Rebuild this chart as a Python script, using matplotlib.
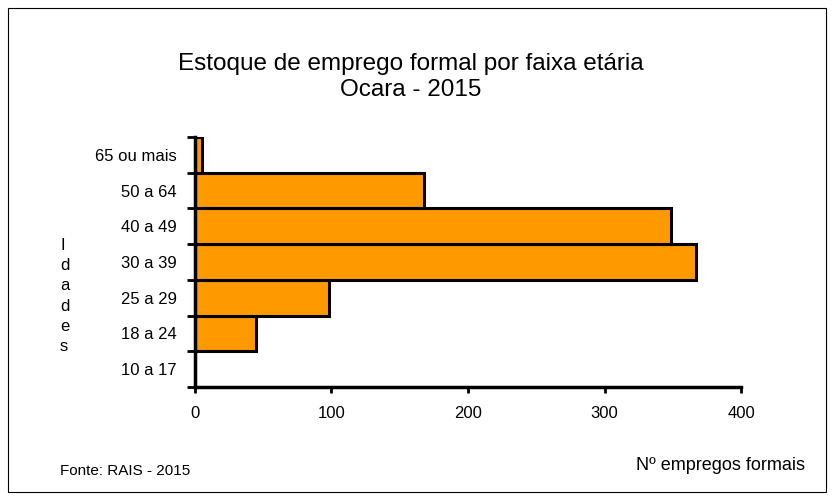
import matplotlib.pyplot as plt
import matplotlib.patheffects as pe
from matplotlib.patches import Rectangle
import numpy as np

plt.rcParams['font.family'] = ['Liberation Sans', 'DejaVu Sans']

faixas = ['10 a 17', '18 a 24', '25 a 29', '30 a 39', '40 a 49', '50 a 64', '65 ou mais']
empregos = [0, 45, 98, 367, 349, 168, 5]
xticks = [0, 100, 200, 300, 400]

fig = plt.figure(figsize=(8.34, 5), dpi=100)
ax = fig.add_axes([0.2338, 0.226, 0.6547, 0.5])

y = np.arange(len(faixas))
bars = ax.barh(y, empregos, height=1.0, color='#FF9900', edgecolor='black', linewidth=2.2)
for b in bars:
    b.set_path_effects([pe.SimplePatchShadow(offset=(1.5, -1.5), shadow_rgbFace='#FF9900', alpha=1.0), pe.Normal()])

ax.set_xlim(0, 400)
ax.set_ylim(-0.5, len(faixas) - 0.5)
ax.set_xticks(xticks)
ax.set_xticklabels([str(v) for v in xticks], fontsize=12)
ax.set_yticks(y)
ax.set_yticklabels(faixas, fontsize=12)
ax.set_yticks(np.arange(len(faixas) + 1) - 0.5, minor=True)
ax.tick_params(axis='y', which='major', length=0, pad=13)
ax.tick_params(axis='y', which='minor', length=6, width=2)
ax.tick_params(axis='x', which='major', length=4, width=2, pad=10)

for s in ['top', 'right']:
    ax.spines[s].set_visible(False)
for s in ['left', 'bottom']:
    ax.spines[s].set_linewidth(2.5)

fig.text(0.492, 0.846, 'Estoque de emprego formal por faixa etária\nOcara - 2015',
         ha='center', va='center', fontsize=17.5, linespacing=1.2)
fig.text(0.072, 0.408, '\n'.join('Idades'), ha='left', va='center', fontsize=12, linespacing=1.44)
fig.text(0.072, 0.058, 'Fonte: RAIS - 2015', ha='left', va='center', fontsize=11)
fig.text(0.965, 0.068, 'Nº empregos formais', ha='right', va='center', fontsize=13)

fig.patches.append(Rectangle((0.01, 0.016), 0.98, 0.968, transform=fig.transFigure,
                             fill=False, edgecolor='black', linewidth=0.8))

fig.savefig('out.png', dpi=100)
